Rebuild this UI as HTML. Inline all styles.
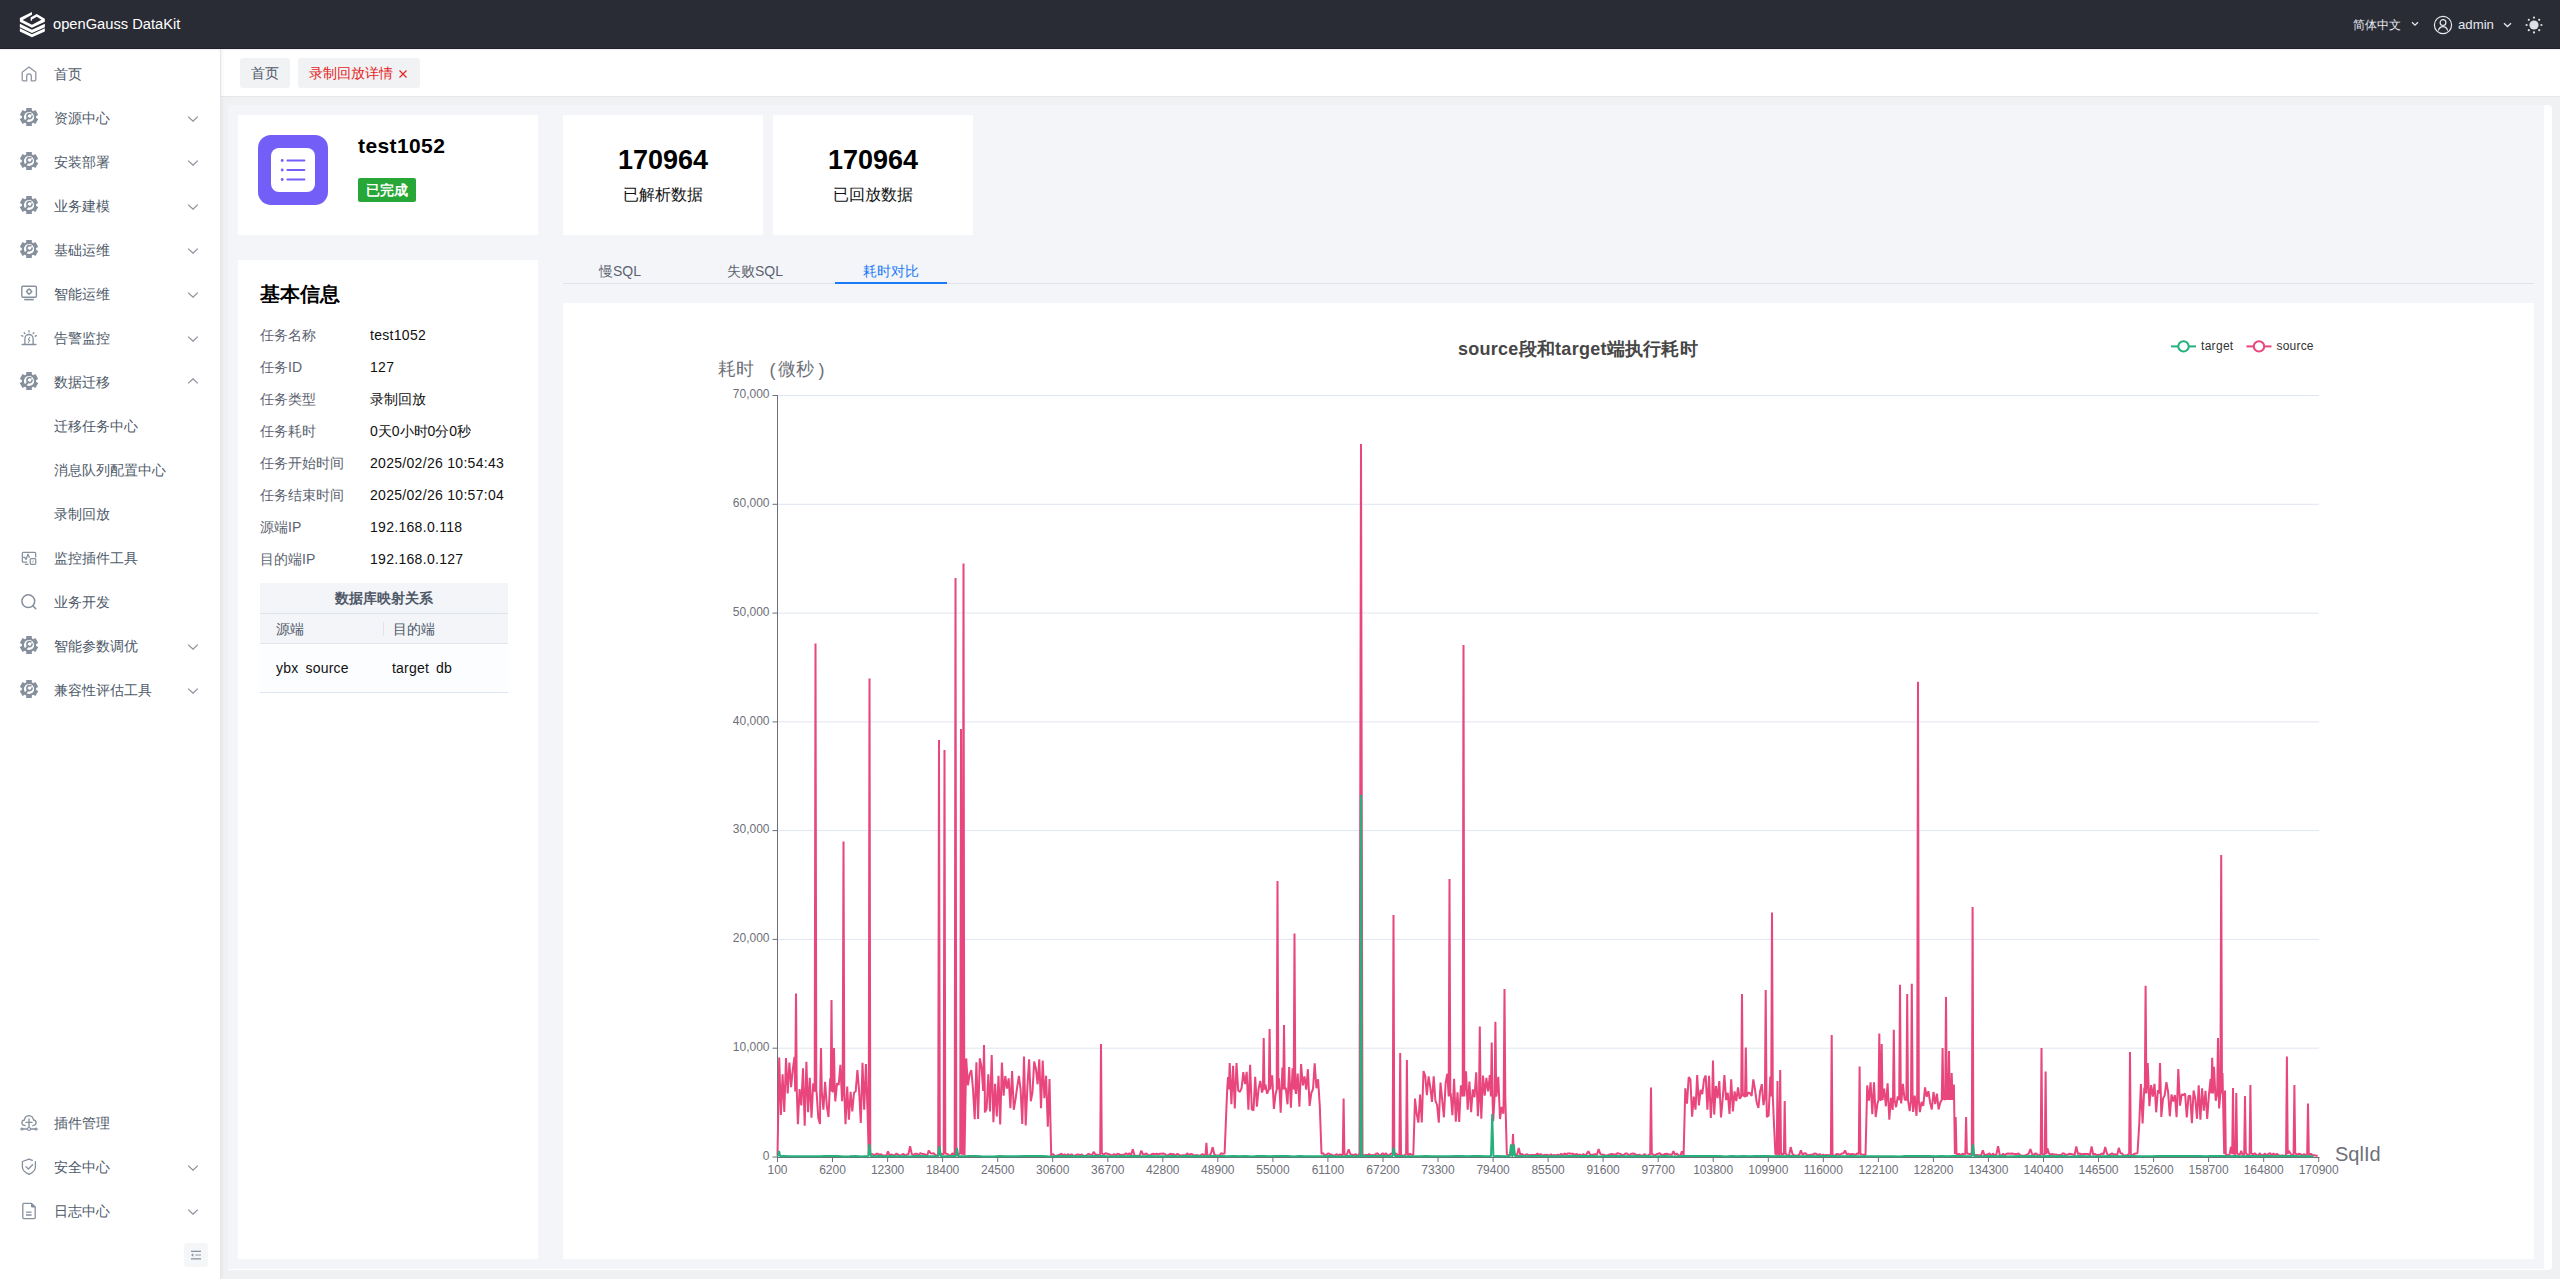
<!DOCTYPE html>
<html><head><meta charset="utf-8">
<style>
*{box-sizing:border-box;margin:0;padding:0}
html,body{width:2560px;height:1279px;overflow:hidden;background:#f0f1f3;font-family:"Liberation Sans",sans-serif;}
.abs{position:absolute}
#hdr{position:absolute;left:0;top:0;width:2560px;height:48px;background:#292c35;box-shadow:0 1px 0 #1e2028,0 2px 2px rgba(50,60,90,.07);z-index:5}
#side{position:absolute;left:0;top:48px;width:221px;height:1231px;background:#fff;border-right:1px solid #e3e5ea;box-shadow:2px 0 3px rgba(0,0,0,.035);z-index:2}
.mi{position:absolute;left:0;width:220px;height:44px}
.mi .t{position:absolute;left:54px;top:0;line-height:44px;font-size:14px;color:#4e5969;white-space:nowrap}
.mi svg.ic{position:absolute;left:20px;top:13px}
.mi svg.ch{position:absolute;left:187px;top:19px}
#tabs{position:absolute;left:221px;top:48px;width:2339px;height:49px;background:#fff;border-bottom:1px solid #e4e6eb}
.tab{position:absolute;top:10px;height:30px;background:#f1f2f4;border-radius:3px;font-size:14px;line-height:30px;white-space:nowrap}
#wrap{position:absolute;left:228px;top:105px;width:2324px;height:1165px;background:#fff;border-radius:0 4px 4px 0}
#inner{position:absolute;left:228px;top:105px;width:2316px;height:1164px;background:#f4f5f9}
.card{position:absolute;background:#fff}
.lbl{position:absolute;left:22px;font-size:14px;color:#5c6370;white-space:nowrap;line-height:20px}
.val{position:absolute;left:132px;font-size:14px;color:#111;white-space:nowrap;line-height:20px;letter-spacing:.3px}
</style></head><body>

<div id="hdr">
  <svg class="abs" style="left:16px;top:8px" width="34" height="34" viewBox="0 0 1279 1279"><g fill="#fff"><path d="M600,150 L145,375 L145,520 L600,745 L1085,520 L1085,400 L780,225 L550,355 L550,480 L600,480 L600,430 L780,330 L960,440 L600,630 L250,450 L600,255 Z"/><path d="M145,590 L600,815 L1085,590 L1085,720 L600,940 L145,720 Z"/><path d="M145,760 L600,985 L1085,760 L1085,880 L600,1100 L145,880 Z"/></g></svg>
  <div class="abs" style="left:53px;top:0;line-height:48px;font-size:14.7px;color:#fff;white-space:nowrap">openGauss DataKit</div>
  <div class="abs" style="left:2353px;top:1px;line-height:48px;font-size:12px;color:#e6e8ee;white-space:nowrap">简体中文</div>
  <svg class="abs" style="left:2411px;top:21px" width="8" height="6" viewBox="0 0 8 6"><path d="M1 1.2 L4 4.2 L7 1.2" fill="none" stroke="#e6e8ee" stroke-width="1.3"/></svg>
  <svg class="abs" style="left:2433px;top:15px" width="20" height="20" viewBox="0 0 20 20"><g fill="none" stroke="#e6e8ee" stroke-width="1.2"><circle cx="10" cy="10" r="8.6"/><circle cx="10" cy="7.6" r="2.9"/><path d="M5.3 15.6 C6.2 12.6 8 11.6 10 11.6 C12 11.6 13.8 12.6 14.7 15.6"/></g></svg>
  <div class="abs" style="left:2458px;top:1px;line-height:48px;font-size:13.2px;color:#e6e8ee;white-space:nowrap">admin</div>
  <svg class="abs" style="left:2503px;top:22px" width="9" height="6" viewBox="0 0 9 6"><path d="M1 1.2 L4.5 4.5 L8 1.2" fill="none" stroke="#e6e8ee" stroke-width="1.3"/></svg>
  <svg class="abs" style="left:2525px;top:16px" width="18" height="18" viewBox="0 0 18 18"><g fill="#dcdfe6"><circle cx="9" cy="9" r="4.6"/><circle cx="9" cy="1.6" r="1.1"/><circle cx="9" cy="16.4" r="1.1"/><circle cx="1.6" cy="9" r="1.1"/><circle cx="16.4" cy="9" r="1.1"/><circle cx="3.8" cy="3.8" r="1.1"/><circle cx="14.2" cy="3.8" r="1.1"/><circle cx="3.8" cy="14.2" r="1.1"/><circle cx="14.2" cy="14.2" r="1.1"/></g></svg>
</div>

<div id="side">
<div class="mi" style="top:4px"><svg class="ic" width="18" height="18" viewBox="0 0 18 18" style="left:20px;top:13px"><path d="M2.2 7.2 L9 2 L15.8 7.2 V14.6 Q15.8 15.8 14.6 15.8 H11.3 V11.2 Q11.3 8.9 9 8.9 Q6.7 8.9 6.7 11.2 V15.8 H3.4 Q2.2 15.8 2.2 14.6 Z" fill="none" stroke="#8f97a3" stroke-width="1.3" stroke-linejoin="round"/></svg><div class="t">首页</div></div>
<div class="mi" style="top:48px"><svg class="ic" width="18" height="18" viewBox="0 0 18 18" style="left:20px;top:12px"><g fill="#86909c"><circle cx="9" cy="9" r="7.2"/><rect x="6.2" y="0" width="5.6" height="4" transform="rotate(0 9 9)"/><rect x="6.2" y="0" width="5.6" height="4" transform="rotate(60 9 9)"/><rect x="6.2" y="0" width="5.6" height="4" transform="rotate(120 9 9)"/><rect x="6.2" y="0" width="5.6" height="4" transform="rotate(180 9 9)"/><rect x="6.2" y="0" width="5.6" height="4" transform="rotate(240 9 9)"/><rect x="6.2" y="0" width="5.6" height="4" transform="rotate(300 9 9)"/></g><circle cx="9" cy="9" r="5.1" fill="#fff"/><g fill="none" stroke="#86909c" stroke-linecap="round"><path d="M10.9 5.9 A2.6 2.6 0 1 0 12.1 8.1" stroke-width="1.7"/><path d="M8.2 10 L5.4 13.1" stroke-width="1.9"/></g></svg><div class="t">资源中心</div><svg class="ch" width="12" height="8" viewBox="0 0 12 8" style="left:187px;top:19px"><path d="M1.2 1.6 L6 6.2 L10.8 1.6" fill="none" stroke="#86909c" stroke-width="1.2"/></svg></div>
<div class="mi" style="top:92px"><svg class="ic" width="18" height="18" viewBox="0 0 18 18" style="left:20px;top:12px"><g fill="#86909c"><circle cx="9" cy="9" r="7.2"/><rect x="6.2" y="0" width="5.6" height="4" transform="rotate(0 9 9)"/><rect x="6.2" y="0" width="5.6" height="4" transform="rotate(60 9 9)"/><rect x="6.2" y="0" width="5.6" height="4" transform="rotate(120 9 9)"/><rect x="6.2" y="0" width="5.6" height="4" transform="rotate(180 9 9)"/><rect x="6.2" y="0" width="5.6" height="4" transform="rotate(240 9 9)"/><rect x="6.2" y="0" width="5.6" height="4" transform="rotate(300 9 9)"/></g><circle cx="9" cy="9" r="5.1" fill="#fff"/><g fill="none" stroke="#86909c" stroke-linecap="round"><path d="M10.9 5.9 A2.6 2.6 0 1 0 12.1 8.1" stroke-width="1.7"/><path d="M8.2 10 L5.4 13.1" stroke-width="1.9"/></g></svg><div class="t">安装部署</div><svg class="ch" width="12" height="8" viewBox="0 0 12 8" style="left:187px;top:19px"><path d="M1.2 1.6 L6 6.2 L10.8 1.6" fill="none" stroke="#86909c" stroke-width="1.2"/></svg></div>
<div class="mi" style="top:136px"><svg class="ic" width="18" height="18" viewBox="0 0 18 18" style="left:20px;top:12px"><g fill="#86909c"><circle cx="9" cy="9" r="7.2"/><rect x="6.2" y="0" width="5.6" height="4" transform="rotate(0 9 9)"/><rect x="6.2" y="0" width="5.6" height="4" transform="rotate(60 9 9)"/><rect x="6.2" y="0" width="5.6" height="4" transform="rotate(120 9 9)"/><rect x="6.2" y="0" width="5.6" height="4" transform="rotate(180 9 9)"/><rect x="6.2" y="0" width="5.6" height="4" transform="rotate(240 9 9)"/><rect x="6.2" y="0" width="5.6" height="4" transform="rotate(300 9 9)"/></g><circle cx="9" cy="9" r="5.1" fill="#fff"/><g fill="none" stroke="#86909c" stroke-linecap="round"><path d="M10.9 5.9 A2.6 2.6 0 1 0 12.1 8.1" stroke-width="1.7"/><path d="M8.2 10 L5.4 13.1" stroke-width="1.9"/></g></svg><div class="t">业务建模</div><svg class="ch" width="12" height="8" viewBox="0 0 12 8" style="left:187px;top:19px"><path d="M1.2 1.6 L6 6.2 L10.8 1.6" fill="none" stroke="#86909c" stroke-width="1.2"/></svg></div>
<div class="mi" style="top:180px"><svg class="ic" width="18" height="18" viewBox="0 0 18 18" style="left:20px;top:12px"><g fill="#86909c"><circle cx="9" cy="9" r="7.2"/><rect x="6.2" y="0" width="5.6" height="4" transform="rotate(0 9 9)"/><rect x="6.2" y="0" width="5.6" height="4" transform="rotate(60 9 9)"/><rect x="6.2" y="0" width="5.6" height="4" transform="rotate(120 9 9)"/><rect x="6.2" y="0" width="5.6" height="4" transform="rotate(180 9 9)"/><rect x="6.2" y="0" width="5.6" height="4" transform="rotate(240 9 9)"/><rect x="6.2" y="0" width="5.6" height="4" transform="rotate(300 9 9)"/></g><circle cx="9" cy="9" r="5.1" fill="#fff"/><g fill="none" stroke="#86909c" stroke-linecap="round"><path d="M10.9 5.9 A2.6 2.6 0 1 0 12.1 8.1" stroke-width="1.7"/><path d="M8.2 10 L5.4 13.1" stroke-width="1.9"/></g></svg><div class="t">基础运维</div><svg class="ch" width="12" height="8" viewBox="0 0 12 8" style="left:187px;top:19px"><path d="M1.2 1.6 L6 6.2 L10.8 1.6" fill="none" stroke="#86909c" stroke-width="1.2"/></svg></div>
<div class="mi" style="top:224px"><svg class="ic" width="18" height="18" viewBox="0 0 18 18" style="left:20px;top:13px"><g fill="none" stroke="#86909c" stroke-width="1.4"><rect x="1.8" y="1.2" width="14.6" height="11" rx="1.2"/><path d="M4.2 14.6 H13.8" stroke-width="1.6"/><circle cx="9.1" cy="6.6" r="2.1"/></g><g fill="#86909c"><rect x="8.5" y="3.3" width="1.2" height="1.2"/><rect x="8.5" y="8.7" width="1.2" height="1.2"/><rect x="5.8" y="6" width="1.2" height="1.2"/><rect x="11.2" y="6" width="1.2" height="1.2"/></g></svg><div class="t">智能运维</div><svg class="ch" width="12" height="8" viewBox="0 0 12 8" style="left:187px;top:19px"><path d="M1.2 1.6 L6 6.2 L10.8 1.6" fill="none" stroke="#86909c" stroke-width="1.2"/></svg></div>
<div class="mi" style="top:268px"><svg class="ic" width="18" height="18" viewBox="0 0 18 18" style="left:20px;top:13px"><g fill="none" stroke="#86909c" stroke-width="1.3" stroke-linecap="round"><path d="M4.9 15 V9.6 A4.1 4.1 0 0 1 13.1 9.6 V15"/><path d="M2.2 15.4 H15.8" stroke-width="1.5"/><path d="M9 1.6 V2.9 M4.2 3.6 L4.9 4.6 M13.8 3.6 L13.1 4.6 M1.6 6.6 L2.8 7.2 M16.4 6.6 L15.2 7.2"/><path d="M9.6 8.3 L8.1 11 H9.9 L8.4 13.6" stroke-width="1"/></g></svg><div class="t">告警监控</div><svg class="ch" width="12" height="8" viewBox="0 0 12 8" style="left:187px;top:19px"><path d="M1.2 1.6 L6 6.2 L10.8 1.6" fill="none" stroke="#86909c" stroke-width="1.2"/></svg></div>
<div class="mi" style="top:312px"><svg class="ic" width="18" height="18" viewBox="0 0 18 18" style="left:20px;top:12px"><g fill="#86909c"><circle cx="9" cy="9" r="7.2"/><rect x="6.2" y="0" width="5.6" height="4" transform="rotate(0 9 9)"/><rect x="6.2" y="0" width="5.6" height="4" transform="rotate(60 9 9)"/><rect x="6.2" y="0" width="5.6" height="4" transform="rotate(120 9 9)"/><rect x="6.2" y="0" width="5.6" height="4" transform="rotate(180 9 9)"/><rect x="6.2" y="0" width="5.6" height="4" transform="rotate(240 9 9)"/><rect x="6.2" y="0" width="5.6" height="4" transform="rotate(300 9 9)"/></g><circle cx="9" cy="9" r="5.1" fill="#fff"/><g fill="none" stroke="#86909c" stroke-linecap="round"><path d="M10.9 5.9 A2.6 2.6 0 1 0 12.1 8.1" stroke-width="1.7"/><path d="M8.2 10 L5.4 13.1" stroke-width="1.9"/></g></svg><div class="t">数据迁移</div><svg class="ch" width="12" height="8" viewBox="0 0 12 8" style="left:187px;top:17px"><path d="M1.2 6.4 L6 1.8 L10.8 6.4" fill="none" stroke="#86909c" stroke-width="1.2"/></svg></div>
<div class="mi" style="top:356px"><div class="t">迁移任务中心</div></div>
<div class="mi" style="top:400px"><div class="t">消息队列配置中心</div></div>
<div class="mi" style="top:444px"><div class="t">录制回放</div></div>
<div class="mi" style="top:488px"><svg class="ic" width="16" height="16" viewBox="0 0 18 18" style="left:21px;top:15px"><g fill="none" stroke="#86909c" stroke-width="1.4" stroke-linejoin="round"><path d="M7 12.6 H2.6 Q1.5 12.6 1.5 11.5 V2.6 Q1.5 1.5 2.6 1.5 H15.4 Q16.5 1.5 16.5 2.6 V7.4"/><path d="M2.4 7.2 H4.2 L5.6 9.6 L7.8 3.6 L9.6 7.6"/><path d="M4.3 15 H8.6" stroke-width="1.4"/><rect x="10.4" y="8.6" width="6.2" height="6.4" rx="1.1"/><path d="M13.8 10.6 L13.2 13" stroke-width="0.9"/></g></svg><div class="t">监控插件工具</div></div>
<div class="mi" style="top:532px"><svg class="ic" width="18" height="18" viewBox="0 0 18 18" style="left:20px;top:13px"><g fill="none" stroke="#86909c" stroke-width="1.5" stroke-linecap="round"><circle cx="8.3" cy="8.2" r="6.4"/><path d="M12.9 12.9 L15.8 15.7"/></g></svg><div class="t">业务开发</div></div>
<div class="mi" style="top:576px"><svg class="ic" width="18" height="18" viewBox="0 0 18 18" style="left:20px;top:12px"><g fill="#86909c"><circle cx="9" cy="9" r="7.2"/><rect x="6.2" y="0" width="5.6" height="4" transform="rotate(0 9 9)"/><rect x="6.2" y="0" width="5.6" height="4" transform="rotate(60 9 9)"/><rect x="6.2" y="0" width="5.6" height="4" transform="rotate(120 9 9)"/><rect x="6.2" y="0" width="5.6" height="4" transform="rotate(180 9 9)"/><rect x="6.2" y="0" width="5.6" height="4" transform="rotate(240 9 9)"/><rect x="6.2" y="0" width="5.6" height="4" transform="rotate(300 9 9)"/></g><circle cx="9" cy="9" r="5.1" fill="#fff"/><g fill="none" stroke="#86909c" stroke-linecap="round"><path d="M10.9 5.9 A2.6 2.6 0 1 0 12.1 8.1" stroke-width="1.7"/><path d="M8.2 10 L5.4 13.1" stroke-width="1.9"/></g></svg><div class="t">智能参数调优</div><svg class="ch" width="12" height="8" viewBox="0 0 12 8" style="left:187px;top:19px"><path d="M1.2 1.6 L6 6.2 L10.8 1.6" fill="none" stroke="#86909c" stroke-width="1.2"/></svg></div>
<div class="mi" style="top:620px"><svg class="ic" width="18" height="18" viewBox="0 0 18 18" style="left:20px;top:12px"><g fill="#86909c"><circle cx="9" cy="9" r="7.2"/><rect x="6.2" y="0" width="5.6" height="4" transform="rotate(0 9 9)"/><rect x="6.2" y="0" width="5.6" height="4" transform="rotate(60 9 9)"/><rect x="6.2" y="0" width="5.6" height="4" transform="rotate(120 9 9)"/><rect x="6.2" y="0" width="5.6" height="4" transform="rotate(180 9 9)"/><rect x="6.2" y="0" width="5.6" height="4" transform="rotate(240 9 9)"/><rect x="6.2" y="0" width="5.6" height="4" transform="rotate(300 9 9)"/></g><circle cx="9" cy="9" r="5.1" fill="#fff"/><g fill="none" stroke="#86909c" stroke-linecap="round"><path d="M10.9 5.9 A2.6 2.6 0 1 0 12.1 8.1" stroke-width="1.7"/><path d="M8.2 10 L5.4 13.1" stroke-width="1.9"/></g></svg><div class="t">兼容性评估工具</div><svg class="ch" width="12" height="8" viewBox="0 0 12 8" style="left:187px;top:19px"><path d="M1.2 1.6 L6 6.2 L10.8 1.6" fill="none" stroke="#86909c" stroke-width="1.2"/></svg></div>
<div class="mi" style="top:1053px"><svg class="ic" width="18" height="18" viewBox="0 0 18 18" style="left:20px;top:13px"><g fill="none" stroke="#86909c" stroke-width="1.3" stroke-linecap="round"><path d="M5.2 11.6 Q1.8 11.4 1.9 8.6 Q2.1 6.3 4.4 6 Q5 1.8 8.9 1.6 Q12.8 1.8 13.5 6 Q16 6.3 16.1 8.6 Q16.1 11.4 12.8 11.6"/><path d="M9 5 V13.6 M5.9 8.3 H12.1"/><path d="M2.6 15 H7.6 M10.4 15 H15.4"/></g><g fill="#fff" stroke="#86909c" stroke-width="1.2"><circle cx="9" cy="15" r="1.5"/><circle cx="1.9" cy="15" r="1"/><circle cx="16.1" cy="15" r="1"/></g></svg><div class="t">插件管理</div></div>
<div class="mi" style="top:1097px"><svg class="ic" width="18" height="18" viewBox="0 0 18 18" style="left:20px;top:13px"><g fill="none" stroke="#86909c" stroke-width="1.3" stroke-linecap="round" stroke-linejoin="round"><path d="M15.4 3.6 L15.4 9 Q15.4 13.4 9.1 16.4 Q2.4 13.4 2.4 9 V3.5 L9 1.1 L12.4 2.3"/><path d="M5.9 8.6 L8.4 11 L12.6 6.8"/></g></svg><div class="t">安全中心</div><svg class="ch" width="12" height="8" viewBox="0 0 12 8" style="left:187px;top:19px"><path d="M1.2 1.6 L6 6.2 L10.8 1.6" fill="none" stroke="#86909c" stroke-width="1.2"/></svg></div>
<div class="mi" style="top:1141px"><svg class="ic" width="18" height="18" viewBox="0 0 18 18" style="left:20px;top:13px"><g fill="none" stroke="#86909c" stroke-width="1.3" stroke-linejoin="round"><path d="M11.5 1.4 H3.8 Q2.8 1.4 2.8 2.4 V15.6 Q2.8 16.6 3.8 16.6 H14.2 Q15.2 16.6 15.2 15.6 V5 Z"/><path d="M11.5 1.4 V5 H15.2" fill="#86909c" stroke-width="1"/><path d="M6 10.1 H11.6 M6 13 H11.6" stroke-width="1.4"/></g></svg><div class="t">日志中心</div><svg class="ch" width="12" height="8" viewBox="0 0 12 8" style="left:187px;top:19px"><path d="M1.2 1.6 L6 6.2 L10.8 1.6" fill="none" stroke="#86909c" stroke-width="1.2"/></svg></div>
<div class="abs" style="left:184px;top:1195px;width:24px;height:24px;background:#f5f6f8;border-radius:3px"></div>
<svg class="abs" style="left:190px;top:1201px" width="12" height="12" viewBox="0 0 12 12"><g fill="#8a93a2"><rect x="1" y="1.7" width="10" height="1.3"/><rect x="1" y="9.2" width="10" height="1.3"/><rect x="5.2" y="5.4" width="5.8" height="1.3" fill="#aab1bc"/><path d="M1 6 L3.3 4.3 V7.7 Z"/></g></svg>
</div>

<div id="tabs">
  <div class="tab" style="left:19px;width:50px;color:#4e5969;text-align:center">首页</div>
  <div class="tab" style="left:77px;width:122px;color:#e41d1d;padding-left:11px">录制回放详情</div>
  <svg class="abs" style="left:178px;top:22px" width="8" height="8" viewBox="0 0 8 8"><path d="M.5 .5 L7.5 7.5 M7.5 .5 L.5 7.5" stroke="#e41d1d" stroke-width="1.1"/></svg>
</div>

<div id="wrap"></div>
<div id="inner"></div>

<div class="card" style="left:238px;top:115px;width:300px;height:120px"></div>
<svg class="abs" style="left:258px;top:135px" width="70" height="70" viewBox="0 0 70 70"><rect x="0" y="0" width="70" height="70" rx="13" fill="#735ff7"/><rect x="13" y="13" width="44" height="44" rx="8" fill="#fff"/><g fill="#735ff7"><circle cx="24.2" cy="25.5" r="1.4"/><circle cx="24.2" cy="35" r="1.4"/><circle cx="24.2" cy="44.5" r="1.4"/><rect x="28.4" y="24.5" width="19" height="2.1" rx="1"/><rect x="28.4" y="34" width="19" height="2.1" rx="1"/><rect x="28.4" y="43.5" width="19" height="2.1" rx="1"/></g></svg>
<div class="abs" style="left:358px;top:132px;font-size:21px;font-weight:bold;color:#000;line-height:28px;letter-spacing:.4px;white-space:nowrap">test1052</div>
<div class="abs" style="left:358px;top:178px;width:58px;height:24px;background:#27a737;border-radius:2px;color:#fff;font-size:14px;font-weight:bold;line-height:24px;text-align:center">已完成</div>
<div class="card" style="left:563px;top:115px;width:200px;height:120px"></div>
<div class="abs" style="left:563px;top:143px;width:200px;text-align:center;font-size:27px;font-weight:bold;color:#000;line-height:34px">170964</div>
<div class="abs" style="left:563px;top:184px;width:200px;text-align:center;font-size:16px;color:#111;line-height:22px">已解析数据</div>
<div class="card" style="left:773px;top:115px;width:200px;height:120px"></div>
<div class="abs" style="left:773px;top:143px;width:200px;text-align:center;font-size:27px;font-weight:bold;color:#000;line-height:34px">170964</div>
<div class="abs" style="left:773px;top:184px;width:200px;text-align:center;font-size:16px;color:#111;line-height:22px">已回放数据</div>
<div class="card" style="left:238px;top:260px;width:300px;height:999px"></div>
<div class="abs" style="left:260px;top:280px;font-size:20px;font-weight:bold;color:#000;line-height:28px;white-space:nowrap">基本信息</div>
<div class="lbl" style="left:260px;top:325px">任务名称</div>
<div class="val" style="left:370px;top:325px">test1052</div>
<div class="lbl" style="left:260px;top:357px">任务ID</div>
<div class="val" style="left:370px;top:357px">127</div>
<div class="lbl" style="left:260px;top:389px">任务类型</div>
<div class="val" style="left:370px;top:389px;letter-spacing:0">录制回放</div>
<div class="lbl" style="left:260px;top:421px">任务耗时</div>
<div class="val" style="left:370px;top:421px;letter-spacing:0">0天0小时0分0秒</div>
<div class="lbl" style="left:260px;top:453px">任务开始时间</div>
<div class="val" style="left:370px;top:453px">2025/02/26 10:54:43</div>
<div class="lbl" style="left:260px;top:485px">任务结束时间</div>
<div class="val" style="left:370px;top:485px">2025/02/26 10:57:04</div>
<div class="lbl" style="left:260px;top:517px">源端IP</div>
<div class="val" style="left:370px;top:517px">192.168.0.118</div>
<div class="lbl" style="left:260px;top:549px">目的端IP</div>
<div class="val" style="left:370px;top:549px">192.168.0.127</div>
<div class="abs" style="left:260px;top:583px;width:248px;height:61px;background:#f3f5f9;border-bottom:1px solid #dfe5ee"></div>
<div class="abs" style="left:260px;top:613px;width:248px;height:1px;background:#dfe5ee"></div>
<div class="abs" style="left:260px;top:583px;width:248px;height:30px;line-height:30px;text-align:center;font-size:14px;font-weight:bold;color:#505968">数据库映射关系</div>
<div class="abs" style="left:276px;top:619px;line-height:20px;font-size:14px;color:#505968">源端</div>
<div class="abs" style="left:383px;top:622px;width:1px;height:14px;background:#dfe5ee"></div>
<div class="abs" style="left:393px;top:619px;line-height:20px;font-size:14px;color:#505968">目的端</div>
<div class="abs" style="left:260px;top:645px;width:248px;height:48px;background:#fcfdfe;border-bottom:1px solid #dfe5ee"></div>
<div class="abs" style="left:276px;top:658px;line-height:20px;font-size:14px;color:#111;word-spacing:3px;letter-spacing:.2px;white-space:nowrap">ybx source</div>
<div class="abs" style="left:392px;top:658px;line-height:20px;font-size:14px;color:#111;word-spacing:3px;letter-spacing:.2px;white-space:nowrap">target db</div>
<div class="abs" style="left:563px;top:283px;width:1971px;height:1px;background:#dfe4ec"></div>
<div class="abs" style="left:599px;top:261px;font-size:14px;color:#5c6370;line-height:20px;white-space:nowrap">慢SQL</div>
<div class="abs" style="left:727px;top:261px;font-size:14px;color:#5c6370;line-height:20px;white-space:nowrap">失败SQL</div>
<div class="abs" style="left:863px;top:261px;font-size:14px;color:#1a7af8;line-height:20px;white-space:nowrap">耗时对比</div>
<div class="abs" style="left:835px;top:282px;width:112px;height:2px;background:#1a7af8"></div>
<div class="card" style="left:563px;top:303px;width:1971px;height:956px"></div>
<!--CHART-->
<svg class="abs" style="left:0;top:0;z-index:3" width="2560" height="1279" viewBox="0 0 2560 1279" font-family="Liberation Sans, sans-serif">
<line x1="778" y1="1048.2" x2="2319" y2="1048.2" stroke="#e0e6f1" stroke-width="1"/>
<line x1="778" y1="939.4" x2="2319" y2="939.4" stroke="#e0e6f1" stroke-width="1"/>
<line x1="778" y1="830.6" x2="2319" y2="830.6" stroke="#e0e6f1" stroke-width="1"/>
<line x1="778" y1="721.9" x2="2319" y2="721.9" stroke="#e0e6f1" stroke-width="1"/>
<line x1="778" y1="613.1" x2="2319" y2="613.1" stroke="#e0e6f1" stroke-width="1"/>
<line x1="778" y1="504.3" x2="2319" y2="504.3" stroke="#e0e6f1" stroke-width="1"/>
<line x1="778" y1="395.5" x2="2319" y2="395.5" stroke="#e0e6f1" stroke-width="1"/>
<text x="769.5" y="1159.6" font-size="12" fill="#6e7079" text-anchor="end">0</text>
<line x1="772.5" y1="1157.0" x2="777.5" y2="1157.0" stroke="#6e7079" stroke-width="1"/>
<text x="769.5" y="1050.8" font-size="12" fill="#6e7079" text-anchor="end">10,000</text>
<line x1="772.5" y1="1048.2" x2="777.5" y2="1048.2" stroke="#6e7079" stroke-width="1"/>
<text x="769.5" y="942.0" font-size="12" fill="#6e7079" text-anchor="end">20,000</text>
<line x1="772.5" y1="939.4" x2="777.5" y2="939.4" stroke="#6e7079" stroke-width="1"/>
<text x="769.5" y="833.2" font-size="12" fill="#6e7079" text-anchor="end">30,000</text>
<line x1="772.5" y1="830.6" x2="777.5" y2="830.6" stroke="#6e7079" stroke-width="1"/>
<text x="769.5" y="724.5" font-size="12" fill="#6e7079" text-anchor="end">40,000</text>
<line x1="772.5" y1="721.9" x2="777.5" y2="721.9" stroke="#6e7079" stroke-width="1"/>
<text x="769.5" y="615.7" font-size="12" fill="#6e7079" text-anchor="end">50,000</text>
<line x1="772.5" y1="613.1" x2="777.5" y2="613.1" stroke="#6e7079" stroke-width="1"/>
<text x="769.5" y="506.9" font-size="12" fill="#6e7079" text-anchor="end">60,000</text>
<line x1="772.5" y1="504.3" x2="777.5" y2="504.3" stroke="#6e7079" stroke-width="1"/>
<text x="769.5" y="398.1" font-size="12" fill="#6e7079" text-anchor="end">70,000</text>
<line x1="772.5" y1="395.5" x2="777.5" y2="395.5" stroke="#6e7079" stroke-width="1"/>
<line x1="777.5" y1="395" x2="777.5" y2="1157.5" stroke="#6e7079" stroke-width="1"/>
<line x1="777.5" y1="1157.0" x2="777.5" y2="1162.0" stroke="#6e7079" stroke-width="1"/>
<text x="777.5" y="1174.0" font-size="12" fill="#6e7079" text-anchor="middle">100</text>
<line x1="832.5" y1="1157.0" x2="832.5" y2="1162.0" stroke="#6e7079" stroke-width="1"/>
<text x="832.5" y="1174.0" font-size="12" fill="#6e7079" text-anchor="middle">6200</text>
<line x1="887.6" y1="1157.0" x2="887.6" y2="1162.0" stroke="#6e7079" stroke-width="1"/>
<text x="887.6" y="1174.0" font-size="12" fill="#6e7079" text-anchor="middle">12300</text>
<line x1="942.6" y1="1157.0" x2="942.6" y2="1162.0" stroke="#6e7079" stroke-width="1"/>
<text x="942.6" y="1174.0" font-size="12" fill="#6e7079" text-anchor="middle">18400</text>
<line x1="997.7" y1="1157.0" x2="997.7" y2="1162.0" stroke="#6e7079" stroke-width="1"/>
<text x="997.7" y="1174.0" font-size="12" fill="#6e7079" text-anchor="middle">24500</text>
<line x1="1052.7" y1="1157.0" x2="1052.7" y2="1162.0" stroke="#6e7079" stroke-width="1"/>
<text x="1052.7" y="1174.0" font-size="12" fill="#6e7079" text-anchor="middle">30600</text>
<line x1="1107.8" y1="1157.0" x2="1107.8" y2="1162.0" stroke="#6e7079" stroke-width="1"/>
<text x="1107.8" y="1174.0" font-size="12" fill="#6e7079" text-anchor="middle">36700</text>
<line x1="1162.8" y1="1157.0" x2="1162.8" y2="1162.0" stroke="#6e7079" stroke-width="1"/>
<text x="1162.8" y="1174.0" font-size="12" fill="#6e7079" text-anchor="middle">42800</text>
<line x1="1217.8" y1="1157.0" x2="1217.8" y2="1162.0" stroke="#6e7079" stroke-width="1"/>
<text x="1217.8" y="1174.0" font-size="12" fill="#6e7079" text-anchor="middle">48900</text>
<line x1="1272.9" y1="1157.0" x2="1272.9" y2="1162.0" stroke="#6e7079" stroke-width="1"/>
<text x="1272.9" y="1174.0" font-size="12" fill="#6e7079" text-anchor="middle">55000</text>
<line x1="1327.9" y1="1157.0" x2="1327.9" y2="1162.0" stroke="#6e7079" stroke-width="1"/>
<text x="1327.9" y="1174.0" font-size="12" fill="#6e7079" text-anchor="middle">61100</text>
<line x1="1383.0" y1="1157.0" x2="1383.0" y2="1162.0" stroke="#6e7079" stroke-width="1"/>
<text x="1383.0" y="1174.0" font-size="12" fill="#6e7079" text-anchor="middle">67200</text>
<line x1="1438.0" y1="1157.0" x2="1438.0" y2="1162.0" stroke="#6e7079" stroke-width="1"/>
<text x="1438.0" y="1174.0" font-size="12" fill="#6e7079" text-anchor="middle">73300</text>
<line x1="1493.1" y1="1157.0" x2="1493.1" y2="1162.0" stroke="#6e7079" stroke-width="1"/>
<text x="1493.1" y="1174.0" font-size="12" fill="#6e7079" text-anchor="middle">79400</text>
<line x1="1548.1" y1="1157.0" x2="1548.1" y2="1162.0" stroke="#6e7079" stroke-width="1"/>
<text x="1548.1" y="1174.0" font-size="12" fill="#6e7079" text-anchor="middle">85500</text>
<line x1="1603.1" y1="1157.0" x2="1603.1" y2="1162.0" stroke="#6e7079" stroke-width="1"/>
<text x="1603.1" y="1174.0" font-size="12" fill="#6e7079" text-anchor="middle">91600</text>
<line x1="1658.2" y1="1157.0" x2="1658.2" y2="1162.0" stroke="#6e7079" stroke-width="1"/>
<text x="1658.2" y="1174.0" font-size="12" fill="#6e7079" text-anchor="middle">97700</text>
<line x1="1713.2" y1="1157.0" x2="1713.2" y2="1162.0" stroke="#6e7079" stroke-width="1"/>
<text x="1713.2" y="1174.0" font-size="12" fill="#6e7079" text-anchor="middle">103800</text>
<line x1="1768.3" y1="1157.0" x2="1768.3" y2="1162.0" stroke="#6e7079" stroke-width="1"/>
<text x="1768.3" y="1174.0" font-size="12" fill="#6e7079" text-anchor="middle">109900</text>
<line x1="1823.3" y1="1157.0" x2="1823.3" y2="1162.0" stroke="#6e7079" stroke-width="1"/>
<text x="1823.3" y="1174.0" font-size="12" fill="#6e7079" text-anchor="middle">116000</text>
<line x1="1878.4" y1="1157.0" x2="1878.4" y2="1162.0" stroke="#6e7079" stroke-width="1"/>
<text x="1878.4" y="1174.0" font-size="12" fill="#6e7079" text-anchor="middle">122100</text>
<line x1="1933.4" y1="1157.0" x2="1933.4" y2="1162.0" stroke="#6e7079" stroke-width="1"/>
<text x="1933.4" y="1174.0" font-size="12" fill="#6e7079" text-anchor="middle">128200</text>
<line x1="1988.4" y1="1157.0" x2="1988.4" y2="1162.0" stroke="#6e7079" stroke-width="1"/>
<text x="1988.4" y="1174.0" font-size="12" fill="#6e7079" text-anchor="middle">134300</text>
<line x1="2043.5" y1="1157.0" x2="2043.5" y2="1162.0" stroke="#6e7079" stroke-width="1"/>
<text x="2043.5" y="1174.0" font-size="12" fill="#6e7079" text-anchor="middle">140400</text>
<line x1="2098.5" y1="1157.0" x2="2098.5" y2="1162.0" stroke="#6e7079" stroke-width="1"/>
<text x="2098.5" y="1174.0" font-size="12" fill="#6e7079" text-anchor="middle">146500</text>
<line x1="2153.6" y1="1157.0" x2="2153.6" y2="1162.0" stroke="#6e7079" stroke-width="1"/>
<text x="2153.6" y="1174.0" font-size="12" fill="#6e7079" text-anchor="middle">152600</text>
<line x1="2208.6" y1="1157.0" x2="2208.6" y2="1162.0" stroke="#6e7079" stroke-width="1"/>
<text x="2208.6" y="1174.0" font-size="12" fill="#6e7079" text-anchor="middle">158700</text>
<line x1="2263.7" y1="1157.0" x2="2263.7" y2="1162.0" stroke="#6e7079" stroke-width="1"/>
<text x="2263.7" y="1174.0" font-size="12" fill="#6e7079" text-anchor="middle">164800</text>
<line x1="2318.7" y1="1157.0" x2="2318.7" y2="1162.0" stroke="#6e7079" stroke-width="1"/>
<text x="2318.7" y="1174.0" font-size="12" fill="#6e7079" text-anchor="middle">170900</text>
<line x1="777" y1="1157.5" x2="2319.5" y2="1157.5" stroke="#6e7079" stroke-width="1"/>
<polyline points="777.5,1155.0 777.5,1155.6 779.2,1057.6 780.9,1114.9 782.6,1074.2 784.3,1112.0 786.0,1058.1 787.7,1093.4 789.4,1062.5 791.1,1087.2 792.8,1069.4 794.5,1056.9 795.2,1091.5 796.0,993.5 796.8,1091.5 797.9,1124.1 799.6,1089.0 801.3,1105.4 803.0,1068.4 804.7,1125.7 806.4,1061.9 808.1,1112.3 809.8,1077.8 811.5,1117.6 813.2,1083.2 814.7,1091.5 815.5,643.5 816.3,1091.5 816.6,1092.1 818.3,1118.0 820.0,1124.1 820.2,1091.5 821.0,1048.0 821.8,1091.5 823.4,1109.6 825.1,1081.7 826.8,1105.8 828.5,1117.0 830.2,1078.2 830.7,1091.5 831.5,1000.0 832.3,1091.5 833.2,1091.5 834.0,1048.0 834.8,1091.5 835.3,1101.5 837.0,1083.3 838.7,1084.8 840.4,1064.9 842.1,1101.2 842.7,1091.5 843.5,841.5 844.3,1091.5 845.5,1124.1 847.2,1086.6 848.9,1119.6 850.6,1091.9 852.3,1111.3 854.0,1092.5 855.7,1091.5 857.4,1070.2 859.1,1090.5 860.8,1123.0 862.5,1062.9 864.2,1109.8 865.9,1064.0 867.6,1112.6 868.7,1154.0 869.5,678.5 870.3,1154.0 871.0,1154.1 872.7,1154.3 874.4,1155.8 876.1,1153.8 877.8,1153.8 879.5,1154.9 881.2,1154.2 882.9,1155.8 884.6,1155.5 886.3,1155.9 888.0,1151.4 889.7,1155.9 891.4,1154.3 893.1,1155.3 894.8,1155.0 896.5,1153.6 898.2,1154.7 899.9,1155.8 901.6,1155.0 903.3,1153.7 905.0,1155.9 906.7,1154.5 908.4,1154.5 910.1,1146.1 911.8,1154.1 913.5,1155.0 915.2,1153.8 916.9,1153.8 918.6,1155.4 920.3,1153.2 922.0,1153.7 923.7,1153.9 925.4,1154.6 927.1,1155.9 928.8,1150.4 930.5,1153.3 932.2,1153.4 933.9,1153.3 935.6,1155.4 937.3,1155.4 938.2,1154.0 939.0,740.0 939.8,1154.0 940.7,1153.6 942.4,1154.2 943.7,1154.0 944.5,750.0 945.3,1154.0 945.8,1153.5 947.5,1153.9 949.2,1155.5 950.9,1155.1 952.6,1153.3 954.3,1154.9 954.7,1154.0 955.5,578.0 956.3,1154.0 957.7,1155.6 959.4,1153.5 960.2,1154.0 961.0,729.0 961.8,1154.0 962.7,1154.0 963.5,563.5 964.3,1154.0 964.5,1155.0 966.2,1058.4 967.9,1085.4 969.6,1074.4 971.3,1070.2 973.0,1089.0 974.7,1119.3 976.4,1062.3 978.1,1119.0 979.8,1058.4 981.5,1066.8 983.2,1091.0 984.0,1045.0 984.8,1091.0 984.9,1112.4 986.6,1108.8 988.3,1074.2 990.0,1111.5 991.7,1055.0 993.4,1122.2 995.1,1083.9 996.8,1116.4 998.5,1075.7 1000.2,1124.4 1001.9,1062.6 1003.6,1095.7 1005.3,1076.0 1007.0,1088.5 1008.7,1078.4 1010.4,1108.3 1012.1,1071.0 1013.8,1109.8 1015.5,1099.4 1017.2,1086.9 1018.9,1075.9 1020.6,1089.7 1022.3,1123.9 1024.0,1056.6 1025.7,1125.4 1027.4,1086.9 1029.1,1059.2 1030.8,1101.3 1032.5,1092.0 1034.2,1061.5 1035.9,1068.7 1037.6,1084.3 1039.3,1059.4 1041.0,1108.1 1042.7,1060.6 1044.4,1098.2 1046.1,1075.7 1047.8,1126.7 1049.5,1079.0 1051.2,1155.8 1052.9,1153.8 1054.6,1155.7 1056.3,1155.9 1058.0,1155.2 1059.7,1154.8 1061.4,1153.7 1063.1,1155.6 1064.8,1154.4 1066.5,1155.7 1068.2,1154.1 1069.9,1155.8 1071.6,1154.2 1073.3,1155.8 1075.0,1155.8 1076.7,1154.7 1078.4,1154.5 1080.1,1155.2 1081.8,1154.5 1083.5,1155.7 1085.2,1155.9 1086.9,1155.1 1088.6,1153.9 1090.3,1154.6 1092.0,1155.0 1093.7,1151.9 1095.4,1154.5 1097.1,1154.7 1098.8,1155.7 1100.2,1154.0 1101.0,1044.0 1101.8,1154.0 1102.2,1153.7 1103.9,1154.6 1105.6,1153.2 1107.3,1153.7 1109.0,1154.2 1110.7,1155.0 1112.4,1155.6 1114.1,1153.9 1115.8,1155.5 1117.5,1153.6 1119.2,1154.1 1120.9,1155.3 1122.6,1154.7 1124.3,1154.8 1126.0,1153.3 1127.7,1154.5 1129.4,1153.3 1131.1,1155.0 1132.8,1149.2 1134.5,1155.4 1136.2,1156.0 1137.9,1155.7 1139.6,1155.9 1141.3,1150.6 1143.0,1154.5 1144.7,1154.2 1146.4,1153.5 1148.1,1155.1 1149.8,1155.6 1151.5,1154.2 1153.2,1153.7 1154.9,1154.2 1156.6,1153.7 1158.3,1154.5 1160.0,1153.7 1161.7,1153.7 1163.4,1153.5 1165.1,1154.1 1166.8,1155.9 1168.5,1155.0 1170.2,1153.7 1171.9,1154.2 1173.6,1154.1 1175.3,1156.0 1177.0,1153.9 1178.7,1154.5 1180.4,1155.8 1182.1,1155.3 1183.8,1155.3 1185.5,1155.4 1187.2,1153.3 1188.9,1154.9 1190.6,1154.1 1192.3,1154.3 1194.0,1155.8 1195.7,1155.3 1197.4,1155.1 1199.1,1156.0 1200.8,1155.2 1202.5,1154.1 1204.2,1155.2 1205.6,1154.0 1206.4,1142.7 1207.2,1154.0 1207.6,1155.7 1209.3,1155.4 1211.0,1153.4 1212.7,1147.1 1214.4,1154.7 1216.1,1155.4 1217.8,1155.4 1219.5,1155.6 1221.2,1153.3 1222.9,1153.7 1224.6,1153.5 1226.3,1110.9 1227.2,1089.5 1228.0,1077.0 1228.8,1089.5 1229.7,1063.0 1231.4,1104.3 1233.1,1065.7 1234.8,1108.5 1236.5,1063.0 1238.2,1090.5 1239.9,1091.9 1241.6,1088.1 1243.3,1072.2 1245.0,1084.2 1246.7,1071.9 1248.4,1109.7 1250.1,1064.8 1251.8,1109.4 1253.5,1110.4 1255.2,1076.7 1256.9,1106.7 1258.6,1088.7 1260.3,1080.9 1262.0,1092.5 1262.9,1089.5 1263.7,1038.0 1264.5,1089.5 1265.4,1084.5 1267.1,1093.7 1268.8,1089.5 1269.6,1029.0 1270.4,1089.5 1270.5,1087.1 1272.2,1075.4 1273.9,1109.0 1275.6,1093.9 1276.7,1089.5 1277.5,881.0 1278.3,1089.5 1279.0,1078.3 1280.7,1112.6 1282.4,1067.5 1283.2,1089.5 1284.0,1025.0 1284.8,1089.5 1285.8,1087.9 1287.5,1104.3 1289.2,1067.1 1290.9,1107.7 1292.6,1068.3 1293.7,1089.5 1294.5,933.5 1295.3,1089.5 1296.0,1093.8 1297.7,1073.6 1299.4,1106.6 1301.1,1064.0 1302.8,1085.5 1304.5,1076.5 1306.2,1089.6 1307.9,1069.2 1309.6,1105.9 1311.3,1093.0 1313.0,1089.2 1314.7,1063.4 1316.4,1088.3 1318.1,1079.3 1319.8,1106.2 1321.5,1153.7 1323.2,1153.3 1324.9,1155.7 1326.6,1154.5 1328.3,1153.4 1330.0,1154.2 1331.7,1154.7 1333.4,1155.9 1335.1,1155.3 1336.8,1154.2 1338.5,1155.6 1340.2,1154.2 1341.9,1155.7 1342.8,1154.0 1343.6,1098.6 1344.4,1154.0 1345.3,1154.9 1347.0,1154.3 1348.7,1149.2 1350.4,1154.2 1352.1,1154.7 1353.8,1155.3 1355.5,1154.0 1357.2,1155.9 1358.9,1154.1 1359.5,1154.0 1361.0,444.0 1362.5,1154.0 1364.0,1155.9 1365.7,1154.8 1367.4,1155.4 1369.1,1153.9 1370.8,1155.4 1372.5,1155.1 1374.2,1155.4 1375.9,1153.9 1377.6,1153.3 1379.3,1155.5 1381.0,1154.8 1382.7,1153.3 1384.4,1154.9 1386.1,1153.3 1387.8,1155.9 1389.5,1154.9 1391.2,1153.5 1392.7,1154.0 1393.5,915.0 1394.3,1154.0 1394.6,1155.1 1396.3,1153.4 1398.0,1155.9 1399.4,1154.0 1400.2,1053.0 1401.0,1154.0 1401.4,1155.1 1403.1,1156.0 1404.8,1155.0 1406.1,1154.0 1406.9,1060.0 1407.7,1154.0 1408.2,1155.4 1409.9,1153.7 1411.6,1154.8 1413.3,1154.7 1415.0,1098.6 1416.7,1114.0 1418.4,1122.6 1420.1,1094.5 1421.8,1122.4 1423.5,1071.0 1425.2,1075.8 1426.9,1095.2 1428.6,1076.3 1430.3,1087.4 1432.0,1102.0 1433.7,1076.4 1435.4,1100.6 1437.1,1105.0 1438.8,1122.7 1440.5,1082.5 1442.2,1100.0 1443.9,1117.3 1445.6,1083.2 1447.3,1073.8 1448.7,1096.5 1449.5,879.0 1450.3,1096.5 1450.7,1093.0 1452.4,1115.1 1454.1,1078.9 1455.8,1121.7 1457.5,1092.3 1459.2,1122.0 1460.9,1085.2 1462.7,1096.5 1463.5,645.0 1464.3,1096.5 1466.0,1071.4 1467.7,1109.7 1469.4,1081.6 1471.1,1112.3 1472.8,1089.4 1474.5,1097.2 1476.2,1072.3 1477.9,1116.1 1479.0,1096.5 1479.8,1026.5 1480.6,1096.5 1481.3,1118.8 1483.0,1075.5 1484.7,1095.7 1486.4,1077.8 1488.1,1091.5 1489.8,1075.1 1490.9,1096.5 1491.7,1042.5 1492.5,1096.5 1493.2,1121.2 1494.6,1096.5 1495.4,1021.7 1496.2,1096.5 1496.6,1094.6 1498.3,1076.9 1500.0,1119.0 1501.7,1106.8 1503.4,1113.8 1503.7,1096.5 1504.5,989.0 1505.3,1096.5 1506.8,1153.8 1508.5,1155.7 1510.2,1154.3 1511.9,1155.0 1512.2,1154.0 1513.0,1134.0 1513.8,1154.0 1515.3,1154.3 1517.0,1155.4 1518.7,1147.9 1520.4,1155.1 1522.1,1153.8 1523.8,1155.8 1525.5,1154.9 1527.2,1154.2 1528.9,1155.5 1530.6,1154.9 1532.3,1155.1 1534.0,1155.1 1535.7,1155.0 1537.4,1153.6 1539.1,1155.0 1540.8,1154.0 1542.5,1156.0 1544.2,1154.8 1545.9,1154.9 1547.6,1154.7 1549.3,1156.0 1551.0,1154.2 1552.7,1155.8 1554.4,1155.0 1556.1,1155.6 1557.8,1154.5 1559.5,1155.7 1561.2,1153.7 1562.9,1155.4 1564.6,1153.4 1566.3,1154.6 1568.0,1153.4 1569.7,1153.5 1571.4,1153.7 1573.1,1153.8 1574.8,1154.9 1576.5,1153.7 1578.2,1155.4 1579.9,1154.5 1581.6,1155.7 1583.3,1154.0 1585.0,1155.9 1586.7,1153.9 1588.4,1151.3 1590.1,1154.5 1591.8,1155.1 1593.5,1154.4 1595.2,1154.2 1596.9,1154.8 1598.6,1149.1 1600.3,1153.9 1602.0,1154.7 1603.7,1154.7 1605.4,1155.6 1607.1,1155.7 1608.8,1154.6 1610.5,1154.2 1612.2,1153.9 1613.9,1154.6 1615.6,1154.6 1617.3,1153.3 1619.0,1153.6 1620.7,1154.0 1622.4,1155.5 1624.1,1154.6 1625.8,1153.4 1627.5,1153.8 1629.2,1155.8 1630.9,1153.9 1632.6,1153.5 1634.3,1153.7 1636.0,1154.6 1637.7,1155.4 1639.4,1154.6 1641.1,1155.9 1642.8,1155.5 1644.5,1154.1 1646.2,1155.5 1647.9,1155.7 1649.6,1154.2 1650.2,1154.0 1651.0,1087.5 1651.8,1154.0 1653.0,1154.4 1654.7,1155.7 1656.4,1154.2 1658.1,1153.8 1659.8,1153.2 1661.5,1155.0 1663.2,1154.8 1664.9,1153.9 1666.6,1153.7 1668.3,1154.2 1670.0,1154.4 1671.7,1155.1 1673.4,1151.1 1675.1,1154.8 1676.8,1153.5 1678.5,1155.4 1680.2,1155.9 1681.9,1151.4 1683.6,1155.4 1685.3,1088.3 1687.0,1103.7 1688.7,1077.1 1690.4,1079.4 1692.1,1116.6 1693.8,1096.7 1695.5,1109.7 1697.2,1075.1 1698.9,1105.4 1700.6,1089.9 1702.3,1094.2 1704.0,1079.5 1705.7,1075.5 1707.4,1109.6 1709.1,1075.7 1710.8,1117.9 1712.2,1096.5 1713.0,1060.6 1713.8,1096.5 1714.2,1114.6 1715.9,1086.0 1717.6,1098.1 1719.3,1081.0 1721.0,1117.4 1722.7,1099.0 1724.4,1075.0 1726.1,1100.1 1727.8,1092.8 1729.5,1114.0 1731.2,1079.2 1732.9,1111.4 1734.6,1091.4 1736.3,1101.1 1738.0,1087.3 1739.7,1098.8 1741.2,1096.5 1742.0,994.0 1742.8,1096.5 1743.1,1093.3 1744.8,1097.0 1745.0,1096.5 1745.8,1047.5 1746.6,1096.5 1748.2,1092.8 1749.9,1092.9 1751.6,1096.0 1753.3,1079.3 1755.0,1089.5 1756.7,1102.5 1758.4,1108.0 1760.1,1091.4 1761.8,1084.2 1763.5,1105.2 1764.9,1096.5 1765.7,990.0 1766.5,1096.5 1766.9,1116.9 1768.6,1115.7 1770.3,1076.6 1771.2,1096.5 1772.0,912.6 1772.8,1096.5 1773.7,1117.7 1775.4,1154.1 1776.7,1154.0 1777.5,1081.0 1778.3,1154.0 1778.8,1155.8 1779.4,1154.0 1780.2,1070.0 1781.0,1154.0 1782.2,1153.7 1783.9,1154.0 1784.7,1101.0 1785.5,1154.0 1785.6,1153.4 1787.3,1155.7 1789.0,1155.7 1790.7,1147.1 1792.4,1153.7 1794.1,1155.2 1795.8,1155.7 1797.5,1155.4 1799.2,1154.8 1800.9,1150.3 1802.6,1155.0 1804.3,1153.3 1806.0,1153.6 1807.7,1155.9 1809.4,1154.8 1811.1,1155.0 1812.8,1154.5 1814.5,1153.6 1816.2,1153.7 1817.9,1156.0 1819.6,1153.9 1821.3,1156.0 1823.0,1154.6 1824.7,1155.5 1826.4,1155.0 1828.1,1155.3 1829.8,1155.2 1830.9,1154.0 1831.7,1035.0 1832.5,1154.0 1833.2,1155.7 1834.9,1155.8 1836.6,1154.0 1838.3,1154.2 1840.0,1154.9 1841.7,1153.5 1843.4,1153.5 1845.1,1150.4 1846.8,1154.6 1848.5,1153.5 1850.2,1154.7 1851.9,1153.9 1853.6,1154.2 1855.3,1155.1 1857.0,1153.6 1858.8,1154.0 1859.6,1066.6 1860.4,1154.0 1862.1,1154.4 1863.8,1154.7 1865.5,1155.3 1867.2,1085.4 1868.9,1100.6 1870.6,1082.4 1872.3,1114.1 1874.0,1082.4 1875.7,1117.0 1877.4,1103.8 1878.5,1100.0 1879.3,1033.5 1880.1,1100.0 1880.9,1100.0 1881.7,1044.0 1882.5,1100.0 1884.2,1088.5 1885.9,1106.3 1887.6,1083.3 1889.3,1119.7 1891.0,1097.9 1892.7,1109.9 1893.0,1100.0 1893.8,1029.8 1894.6,1100.0 1896.1,1107.2 1897.8,1096.5 1899.2,1100.0 1900.0,984.8 1900.8,1100.0 1901.2,1103.3 1902.9,1083.8 1904.6,1099.5 1906.4,1100.0 1907.2,994.0 1908.0,1100.0 1909.7,1111.1 1911.0,1100.0 1911.8,983.8 1912.6,1100.0 1913.1,1111.9 1914.8,1095.7 1916.5,1115.8 1917.2,1100.0 1918.0,681.7 1918.8,1100.0 1919.9,1112.1 1921.6,1101.9 1923.3,1105.9 1925.0,1087.4 1926.7,1096.8 1928.4,1091.2 1930.1,1102.4 1931.8,1109.4 1933.5,1092.0 1935.2,1104.2 1936.9,1093.7 1938.6,1109.4 1940.3,1102.4 1941.8,1100.0 1942.6,1048.0 1943.4,1100.0 1943.7,1097.1 1945.2,1100.0 1946.0,997.0 1946.8,1100.0 1947.1,1080.7 1948.2,1100.0 1949.0,1051.0 1949.8,1100.0 1950.5,1088.1 1950.9,1100.0 1951.7,1073.0 1952.5,1100.0 1953.9,1084.6 1954.9,1154.0 1955.7,1117.0 1956.5,1154.0 1957.3,1154.5 1959.0,1153.8 1960.7,1155.4 1962.4,1153.8 1964.1,1154.2 1965.3,1154.0 1966.1,1117.0 1966.9,1154.0 1967.5,1153.3 1969.2,1154.2 1970.9,1153.7 1971.8,1154.0 1972.6,907.0 1973.4,1154.0 1974.3,1155.6 1976.0,1155.0 1977.7,1155.3 1979.4,1155.3 1981.1,1155.5 1982.8,1150.3 1984.5,1155.2 1986.2,1154.8 1987.9,1154.2 1989.6,1153.4 1991.3,1155.8 1993.0,1153.5 1994.7,1155.6 1996.4,1154.2 1998.1,1146.3 1999.8,1155.3 2001.5,1155.6 2003.2,1153.8 2004.9,1155.6 2006.6,1153.8 2008.3,1153.5 2010.0,1153.8 2011.7,1153.5 2013.4,1153.7 2015.1,1154.1 2016.8,1153.9 2018.5,1153.5 2020.2,1155.3 2021.9,1155.6 2023.6,1155.8 2025.3,1155.6 2027.0,1154.6 2028.7,1153.6 2030.4,1149.2 2032.1,1154.1 2033.8,1155.0 2035.5,1153.3 2037.2,1154.2 2038.9,1155.9 2040.7,1154.0 2041.5,1048.0 2042.3,1154.0 2044.0,1154.6 2044.8,1154.0 2045.6,1071.4 2046.4,1154.0 2047.4,1148.2 2049.1,1153.6 2050.8,1154.7 2052.5,1153.8 2054.2,1154.8 2055.9,1154.4 2057.6,1155.2 2059.3,1154.9 2061.0,1155.2 2062.7,1153.3 2064.4,1153.8 2066.1,1155.1 2067.8,1154.4 2069.5,1153.8 2071.2,1154.0 2072.9,1154.5 2074.6,1155.2 2076.3,1146.5 2078.0,1154.2 2079.7,1153.5 2081.4,1154.3 2083.1,1154.1 2084.8,1154.1 2086.5,1154.1 2088.2,1153.9 2089.9,1155.5 2091.6,1146.5 2093.3,1155.0 2095.0,1153.8 2096.7,1155.3 2098.4,1154.8 2100.1,1154.8 2101.8,1153.4 2103.5,1154.4 2105.2,1147.1 2106.9,1153.4 2108.6,1156.0 2110.3,1154.3 2112.0,1153.3 2113.7,1154.8 2115.4,1154.2 2117.1,1155.6 2118.8,1147.9 2120.5,1153.3 2122.2,1153.6 2123.9,1156.0 2125.6,1155.3 2127.3,1155.5 2129.0,1153.8 2129.2,1154.0 2130.0,1052.0 2130.8,1154.0 2132.4,1155.8 2134.1,1154.0 2135.8,1153.4 2137.5,1153.3 2139.2,1124.9 2140.9,1084.1 2142.6,1123.4 2144.3,1087.5 2144.8,1093.5 2145.6,985.8 2146.4,1093.5 2147.7,1063.1 2149.4,1106.1 2151.1,1085.2 2152.8,1096.5 2154.5,1083.8 2156.2,1112.3 2157.9,1090.0 2159.2,1093.5 2160.0,1063.0 2160.8,1093.5 2161.3,1116.9 2163.0,1098.6 2164.7,1095.2 2166.4,1082.2 2168.1,1092.0 2169.8,1116.3 2171.5,1094.6 2173.2,1101.5 2174.9,1095.0 2176.6,1117.2 2178.3,1069.1 2180.0,1105.6 2181.7,1094.6 2183.4,1094.9 2185.1,1093.6 2186.8,1117.5 2188.5,1096.1 2190.2,1095.8 2191.9,1123.3 2193.6,1090.5 2195.3,1098.6 2197.0,1118.8 2198.7,1085.2 2200.4,1119.7 2202.1,1088.4 2203.8,1110.7 2205.5,1090.9 2207.2,1118.9 2208.9,1095.0 2210.6,1078.8 2211.4,1093.5 2212.2,1057.7 2213.0,1093.5 2214.0,1066.8 2215.7,1100.8 2217.2,1093.5 2218.0,1038.0 2218.8,1093.5 2219.1,1108.4 2220.4,1093.5 2221.2,855.0 2222.0,1093.5 2222.5,1073.1 2224.2,1154.0 2225.0,1090.6 2225.8,1154.0 2225.9,1155.6 2227.6,1155.0 2229.3,1155.9 2231.0,1146.8 2232.2,1154.0 2233.0,1088.0 2233.8,1154.0 2234.4,1153.8 2235.5,1154.0 2236.3,1093.0 2237.1,1154.0 2237.8,1153.7 2239.5,1155.3 2241.2,1150.9 2242.9,1155.9 2244.2,1154.0 2245.0,1096.0 2245.8,1154.0 2246.3,1153.3 2248.0,1155.8 2249.6,1154.0 2250.4,1085.0 2251.2,1154.0 2251.4,1153.3 2253.1,1154.4 2254.8,1153.3 2256.5,1154.9 2258.2,1155.6 2259.9,1153.2 2261.6,1155.9 2263.3,1155.0 2265.0,1153.5 2266.7,1155.9 2268.4,1154.0 2270.1,1153.2 2271.8,1155.6 2273.5,1153.4 2275.2,1155.2 2276.9,1153.9 2278.6,1155.1 2280.3,1155.7 2282.0,1155.5 2283.7,1155.6 2285.4,1156.0 2286.1,1154.0 2286.9,1056.4 2287.7,1154.0 2288.8,1150.7 2290.5,1153.6 2292.2,1155.6 2293.6,1154.0 2294.4,1085.0 2295.2,1154.0 2295.6,1153.6 2297.3,1154.7 2299.0,1153.7 2300.7,1154.2 2302.4,1155.4 2304.1,1154.0 2305.8,1155.6 2307.2,1154.0 2308.0,1103.4 2308.8,1154.0 2309.2,1155.6 2310.9,1153.6 2312.6,1155.5 2314.3,1155.1 2316.0,1155.7 2317.7,1155.8" fill="none" stroke="#e8467c" stroke-width="2" stroke-linejoin="bevel"/>
<polyline points="777.8,1156.2 779.0,1151.0 780.2,1156.2 783.5,1156.1 789.5,1156.3 795.5,1156.2 801.5,1156.3 807.5,1156.3 813.5,1156.3 819.5,1156.2 825.5,1155.9 831.5,1155.9 837.5,1155.9 843.5,1156.4 849.5,1156.3 855.5,1156.0 861.5,1156.4 867.5,1156.0 868.3,1156.2 869.5,1144.0 870.7,1156.2 873.5,1156.3 879.5,1155.9 885.5,1156.4 891.5,1156.0 897.5,1156.2 903.5,1156.3 909.5,1156.4 915.5,1156.0 921.5,1156.1 927.5,1156.3 933.5,1156.2 938.3,1156.2 939.5,1146.0 940.7,1156.2 945.5,1156.3 951.5,1156.1 955.8,1156.2 957.0,1148.0 958.2,1156.2 963.5,1156.3 969.5,1156.0 975.5,1156.0 981.5,1156.3 987.5,1156.4 993.5,1156.4 999.5,1156.1 1005.5,1156.2 1011.5,1156.3 1017.5,1156.3 1023.5,1156.1 1029.5,1156.0 1035.5,1156.0 1041.5,1156.1 1047.5,1156.3 1053.5,1156.4 1059.5,1156.0 1065.5,1156.2 1071.5,1156.0 1077.5,1156.4 1083.5,1156.0 1089.5,1156.2 1095.5,1156.0 1101.5,1156.0 1107.5,1156.2 1113.5,1156.4 1119.5,1155.9 1125.5,1156.2 1131.5,1156.0 1137.5,1156.3 1143.5,1156.3 1149.5,1156.0 1155.5,1156.2 1161.5,1156.3 1167.5,1156.2 1173.5,1156.1 1179.5,1156.4 1185.5,1156.1 1191.5,1156.2 1197.5,1156.1 1203.5,1156.3 1209.5,1156.0 1215.5,1156.0 1221.5,1156.0 1227.5,1156.2 1233.5,1156.0 1239.5,1156.2 1245.5,1156.0 1251.5,1156.4 1257.5,1156.0 1263.5,1155.9 1269.5,1156.2 1275.5,1156.1 1281.5,1156.1 1287.5,1156.1 1293.5,1156.4 1299.5,1155.9 1305.5,1156.3 1311.5,1156.3 1317.5,1156.3 1323.5,1156.3 1329.5,1156.0 1335.5,1156.4 1341.5,1156.4 1347.5,1156.1 1353.5,1156.3 1360.3,1156.2 1361.0,795.0 1361.7,1156.2 1365.5,1156.1 1371.5,1156.1 1377.5,1156.1 1383.5,1156.0 1389.5,1156.3 1392.5,1156.2 1393.7,1147.5 1394.9,1156.2 1395.5,1156.0 1401.5,1156.0 1407.5,1156.4 1413.5,1156.3 1419.5,1156.2 1425.5,1156.1 1431.5,1156.3 1437.5,1156.3 1443.5,1156.2 1449.5,1156.3 1455.5,1156.1 1461.5,1156.0 1467.5,1156.3 1473.5,1156.1 1479.5,1156.0 1485.5,1156.3 1491.0,1156.2 1492.2,1114.0 1493.4,1156.2 1497.5,1155.9 1503.5,1156.2 1509.8,1156.2 1511.0,1144.3 1512.2,1156.2 1512.6,1156.2 1513.8,1144.3 1515.0,1156.2 1515.5,1156.0 1521.5,1156.1 1527.5,1156.2 1533.5,1155.9 1539.5,1156.0 1545.5,1156.2 1551.5,1156.3 1557.5,1156.2 1563.5,1156.2 1569.5,1155.9 1575.5,1156.0 1581.5,1155.9 1587.5,1156.0 1593.5,1156.0 1599.5,1156.4 1605.5,1156.1 1611.5,1155.9 1617.5,1155.9 1623.5,1156.3 1629.5,1156.2 1635.5,1156.1 1641.5,1156.2 1647.5,1156.1 1653.5,1156.4 1659.5,1156.2 1665.5,1156.1 1671.5,1156.4 1677.5,1156.3 1683.5,1155.9 1689.5,1156.0 1695.5,1155.9 1701.5,1156.1 1707.5,1156.0 1713.5,1156.0 1719.5,1156.0 1725.5,1156.4 1731.5,1156.1 1737.5,1156.3 1743.5,1156.1 1749.5,1156.3 1755.5,1156.1 1761.5,1155.9 1767.5,1156.1 1773.5,1156.3 1779.5,1156.1 1785.5,1156.2 1791.5,1155.9 1797.5,1156.3 1803.5,1156.2 1809.5,1156.1 1815.5,1156.3 1821.5,1156.1 1827.5,1155.9 1833.5,1156.1 1839.5,1156.3 1845.5,1156.2 1851.5,1156.1 1857.5,1156.3 1863.5,1156.3 1869.5,1156.3 1875.5,1156.3 1881.5,1156.2 1887.5,1156.3 1893.5,1156.3 1899.5,1156.4 1905.5,1156.1 1911.5,1156.0 1917.5,1156.1 1923.5,1156.1 1929.5,1156.1 1935.5,1156.3 1941.5,1156.0 1947.5,1156.2 1953.5,1156.1 1959.5,1156.1 1965.5,1156.2 1971.8,1156.2 1973.0,1144.3 1974.2,1156.2 1977.5,1156.3 1983.5,1156.3 1989.5,1156.1 1995.5,1156.2 2001.5,1156.1 2007.5,1156.4 2013.5,1156.2 2019.5,1156.0 2025.5,1156.3 2031.5,1156.1 2037.5,1156.2 2043.5,1156.3 2049.5,1155.9 2055.5,1156.3 2061.5,1156.0 2067.5,1156.3 2073.5,1156.4 2079.5,1156.0 2085.5,1156.2 2091.5,1156.4 2097.5,1156.2 2103.5,1156.2 2109.5,1156.0 2115.5,1156.3 2121.5,1156.3 2127.5,1155.9 2133.5,1156.0 2139.5,1156.3 2145.5,1156.2 2151.5,1156.2 2157.5,1156.1 2163.5,1156.1 2169.5,1156.0 2175.5,1156.0 2181.5,1156.1 2187.5,1156.0 2193.5,1156.0 2199.5,1156.0 2205.5,1156.2 2211.5,1156.0 2217.5,1156.0 2223.5,1155.9 2229.5,1156.3 2235.5,1156.0 2241.5,1156.4 2247.5,1156.0 2253.5,1156.1 2259.5,1156.2 2265.5,1155.9 2271.5,1156.1 2277.5,1156.2 2283.5,1156.0 2289.5,1156.0 2295.5,1156.1 2301.5,1156.2 2307.5,1156.2 2313.5,1156.2" fill="none" stroke="#25b07c" stroke-width="2" stroke-linejoin="bevel"/>
<g font-size="18" fill="#6e7079"><text x="718" y="375">耗时</text><text x="769.5" y="375.5">(</text><text x="778" y="375">微秒</text><text x="818.5" y="375.5">)</text></g>
<text x="2335" y="1161" font-size="20" fill="#6e7079">SqlId</text>
<text x="1578" y="355" font-size="18" font-weight="bold" fill="#464646" text-anchor="middle" letter-spacing=".25">source段和target端执行耗时</text>
<g stroke-width="2" fill="#fff"><line x1="2171" y1="346.4" x2="2196" y2="346.4" stroke="#25b07c"/><circle cx="2183.5" cy="346.4" r="5.2" stroke="#25b07c"/><line x1="2246.5" y1="346.4" x2="2271.5" y2="346.4" stroke="#e8467c"/><circle cx="2259" cy="346.4" r="5.2" stroke="#e8467c"/></g>
<text x="2201" y="350" font-size="12" fill="#333" letter-spacing=".3">target</text>
<text x="2276.5" y="350" font-size="12" fill="#333" letter-spacing=".2">source</text>
</svg>
<!--/CHART-->

</body></html>
